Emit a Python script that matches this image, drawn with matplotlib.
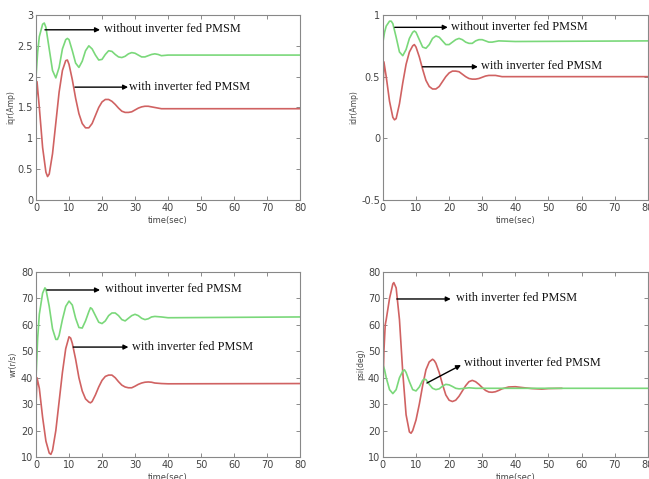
import matplotlib
matplotlib.use("Agg")
import matplotlib.pyplot as plt

# ---- data ----
# iqr (Amp)
t_iqr_red = [0, 0.3, 1, 2, 3, 3.5, 4, 5, 6, 7, 8, 9, 9.5, 10, 11, 12, 13, 14, 15, 16, 17, 18, 19, 20,
             21, 22, 23, 24, 25, 26, 27, 28, 29, 30, 31, 32, 33, 34, 35, 36, 38, 40, 80]
iqr_red = [1.6, 1.92, 1.5, 0.85, 0.45, 0.38, 0.42, 0.75, 1.25, 1.75, 2.1, 2.26, 2.27, 2.2, 1.95, 1.65,
           1.4, 1.24, 1.17, 1.17, 1.24, 1.37, 1.5, 1.59, 1.63, 1.63, 1.6, 1.55, 1.49, 1.44, 1.42, 1.42,
           1.43, 1.46, 1.49, 1.51, 1.52, 1.52, 1.51, 1.5, 1.48, 1.48, 1.48]
t_iqr_green = [0, 0.5, 1, 2, 2.5, 3, 4, 5, 6, 7, 8, 9, 9.5, 10, 11, 12, 13, 14, 15, 16, 17, 18, 19, 20,
               21, 22, 23, 24, 25, 26, 27, 28, 29, 30, 31, 32, 33, 34, 35, 36, 37, 38, 40, 80]
iqr_green = [2.0, 2.4, 2.65, 2.85, 2.87, 2.8, 2.45, 2.1, 1.98, 2.15, 2.45, 2.6, 2.62, 2.6, 2.42, 2.22,
             2.15, 2.25, 2.42, 2.5, 2.45, 2.35, 2.27, 2.28, 2.36, 2.42, 2.41, 2.36, 2.32, 2.31, 2.33,
             2.37, 2.39, 2.38, 2.35, 2.32, 2.32, 2.34, 2.36, 2.37, 2.36, 2.34, 2.35, 2.35]

# idr (Amp)
t_idr_red = [0, 0.3, 1, 2, 3, 3.5, 4, 5, 6, 7, 8, 9, 9.5, 10, 11, 12, 13, 14, 15, 16, 17, 18, 19, 20,
             21, 22, 23, 24, 25, 26, 27, 28, 29, 30, 31, 32, 33, 34, 35, 36, 40, 80]
idr_red = [0.35, 0.62, 0.5, 0.3, 0.17, 0.15, 0.16, 0.28, 0.45, 0.6, 0.7, 0.75, 0.76, 0.74, 0.66, 0.56,
           0.47, 0.42, 0.4, 0.4, 0.42, 0.46, 0.5, 0.53, 0.545, 0.545, 0.54, 0.52, 0.5, 0.485, 0.48,
           0.48, 0.485, 0.495, 0.505, 0.51, 0.51, 0.51, 0.505, 0.5, 0.5, 0.5]
t_idr_green = [0, 0.5, 1, 2, 2.5, 3, 4, 5, 6, 7, 8, 9, 9.5, 10, 11, 12, 13, 14, 15, 16, 17, 18, 19, 20,
               21, 22, 23, 24, 25, 26, 27, 28, 29, 30, 31, 32, 33, 35, 40, 80]
idr_green = [0.78, 0.86, 0.91, 0.95, 0.95, 0.93, 0.82, 0.7, 0.67, 0.72, 0.81, 0.86, 0.87, 0.86, 0.8,
             0.74, 0.73, 0.76, 0.81, 0.83, 0.82, 0.79, 0.76, 0.76, 0.78, 0.8, 0.81, 0.8, 0.78, 0.77,
             0.77, 0.79, 0.8, 0.8, 0.79, 0.78, 0.78, 0.79, 0.785, 0.79]

# wr (r/s)
t_wr_red = [0, 0.3, 1, 2, 3, 4, 4.5, 5, 6, 7, 8, 9, 10, 10.5, 11, 12, 13, 14, 15, 16, 16.5, 17, 18, 19,
            20, 21, 22, 23, 24, 25, 26, 27, 28, 29, 30, 31, 32, 33, 34, 35, 36, 38, 40, 80]
wr_red = [30, 40, 36, 25, 16, 11.5, 11, 12.5, 20, 31, 42, 51, 55.5, 55, 53, 47, 40, 35, 32, 30.8, 30.5,
          31, 33.5, 36.5, 39, 40.5, 41, 41, 40, 38.5, 37.2, 36.5, 36.2, 36.2, 36.8, 37.5, 38, 38.3,
          38.4, 38.3, 38, 37.8, 37.7, 37.8]
t_wr_green = [0, 0.5, 1, 2, 2.7, 3, 4, 5, 6, 6.5, 7, 8, 9, 10, 11, 12, 13, 14, 15, 16, 16.5, 17, 18, 19,
              20, 21, 22, 23, 24, 25, 26, 27, 28, 29, 30, 31, 32, 33, 34, 35, 36, 38, 40, 80]
wr_green = [40, 55, 64, 72, 74, 73.5, 67, 58.5, 54.5, 54.5, 56, 62, 67, 69, 67.5, 62.5, 59, 58.8, 61.5,
            65, 66.5, 66, 63.5, 61, 60.5, 61.5, 63.5, 64.5, 64.5, 63.5, 62, 61.5, 62.5, 63.5, 64, 63.5,
            62.5, 62, 62.3, 63, 63.2, 63, 62.7, 63]

# psi (deg)
t_psi_red = [0, 0.3, 0.7, 1, 2, 3, 3.3, 4, 5, 6, 7, 8, 8.5, 9, 10, 11, 12, 13, 14, 15, 15.5, 16, 17, 18,
             19, 20, 21, 22, 23, 24, 25, 26, 27, 28, 29, 30, 31, 32, 33, 34, 35, 36, 38, 40, 42, 45,
             48, 50, 54]
psi_red = [35, 50, 60, 62, 70, 75.5, 76, 74, 62, 42, 26, 19.5, 19, 20, 24, 30, 37, 43, 46, 47, 46.5,
           45.5, 42, 37.5, 33.5, 31.5, 31, 31.5, 33, 35, 37, 38.5, 39, 38.5, 37.5, 36.3, 35.2, 34.6,
           34.5, 34.7, 35.2, 35.8, 36.5, 36.6, 36.3, 35.9, 35.7, 35.9, 36]
t_psi_green = [0, 0.5, 1, 2, 3, 4, 5, 6, 6.5, 7, 8, 9, 10, 11, 12, 12.5, 13, 14, 15, 16, 17, 18, 19, 20,
               21, 22, 23, 24, 26, 28, 30, 80]
psi_green = [45, 43, 40, 35.5, 34, 35.5, 40, 42.5, 43, 42, 38.5, 35.5, 35, 36.5, 39, 39.5, 39.3, 37.5,
             36, 35.5, 35.8, 36.8, 37.5, 37.3, 36.7, 36, 35.8, 35.9, 36.2, 36, 36, 36]

x_ticks = [0, 10, 20, 30, 40, 50, 60, 70, 80]
RED = "#d06262"
GREEN = "#7ad87a"
SERIF = "Liberation Serif"


def style_axes(ax, ylim, yticks, ylabel, xlabel):
    ax.set_xlim(0, 80)
    ax.set_ylim(*ylim)
    ax.set_xticks(x_ticks)
    ax.set_yticks(yticks)
    ax.set_yticklabels([("%g" % v) for v in yticks])
    ax.tick_params(direction="in", top=True, right=True, length=3, width=0.6,
                   labelsize=7, labelcolor="#444444", color="#777777", pad=2)
    for s in ax.spines.values():
        s.set_color("#888888")
        s.set_linewidth(0.8)
    ax.set_ylabel(ylabel, fontsize=5.5, color="#444444", labelpad=2)
    ax.set_xlabel(xlabel, fontsize=6, color="#444444", labelpad=2)


def arrow(ax, start, end, text, text_pos):
    ax.annotate("", xy=end, xytext=start,
                arrowprops=dict(arrowstyle="-|>", color="black", lw=1.0,
                                mutation_scale=7, shrinkA=0, shrinkB=0))
    ax.text(text_pos[0], text_pos[1], text, family=SERIF, fontsize=8.8,
            va="center", ha="left", color="#111111")


fig = plt.figure(figsize=(6.49, 4.79), dpi=100)
ax1 = fig.add_axes([0.0555, 0.5825, 0.4068, 0.3862])
ax2 = fig.add_axes([0.590, 0.5825, 0.408, 0.3862])
ax3 = fig.add_axes([0.0555, 0.0459, 0.4068, 0.3862])
ax4 = fig.add_axes([0.590, 0.0459, 0.408, 0.3862])

# iqr
ax1.plot(t_iqr_green, iqr_green, color=GREEN, lw=1.2)
ax1.plot(t_iqr_red, iqr_red, color=RED, lw=1.2)
style_axes(ax1, (0, 3), [0, 0.5, 1, 1.5, 2, 2.5, 3], "iqr(Amp)", "time(sec)")
arrow(ax1, (2.7, 2.76), (19.4, 2.76), "without inverter fed PMSM", (20.5, 2.77))
arrow(ax1, (11.8, 1.83), (27.9, 1.83), "with inverter fed PMSM", (28.2, 1.84))

# idr
ax2.plot(t_idr_green, idr_green, color=GREEN, lw=1.2)
ax2.plot(t_idr_red, idr_red, color=RED, lw=1.2)
style_axes(ax2, (-0.5, 1), [-0.5, 0, 0.5, 1], "idr(Amp)", "time(sec)")
arrow(ax2, (3.6, 0.90), (19.6, 0.90), "without inverter fed PMSM", (20.5, 0.905))
arrow(ax2, (12, 0.58), (28.7, 0.58), "with inverter fed PMSM", (29.5, 0.585))

# wr
ax3.plot(t_wr_green, wr_green, color=GREEN, lw=1.2)
ax3.plot(t_wr_red, wr_red, color=RED, lw=1.2)
style_axes(ax3, (10, 80), [10, 20, 30, 40, 50, 60, 70, 80], "wr(r/s)", "time(sec)")
arrow(ax3, (3.3, 73.2), (19.4, 73.2), "without inverter fed PMSM", (21, 73.4))
arrow(ax3, (11.3, 51.6), (28, 51.6), "with inverter fed PMSM", (29, 51.8))

# psi
ax4.plot(t_psi_red, psi_red, color=RED, lw=1.2)
ax4.plot(t_psi_green, psi_green, color=GREEN, lw=1.2)
style_axes(ax4, (10, 80), [10, 20, 30, 40, 50, 60, 70, 80], "psi(deg)", "time(sec)")
arrow(ax4, (4.2, 69.8), (20.5, 69.8), "with inverter fed PMSM", (22, 70))
arrow(ax4, (13.3, 38), (23.6, 44.8), "without inverter fed PMSM", (24.5, 45.5))

fig.savefig("out.png", dpi=100)
